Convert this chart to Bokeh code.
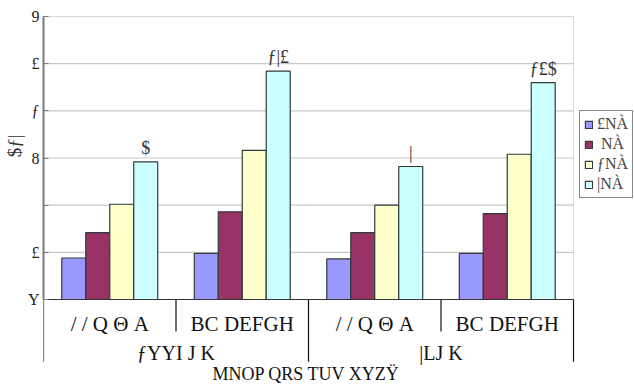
from bokeh.core.properties import value
from bokeh.embed import file_html
from bokeh.models import (BoxAnnotation, ColumnDataSource, Legend, LegendItem,
                          Range1d, Title)
from bokeh.plotting import figure
from bokeh.resources import INLINE
from bokeh.transform import dodge

# ---- data -------------------------------------------------------------
outer_groups = ["ƒYYI J K", "|LJ K"]
inner_groups = ["/ / Q Θ A", "BC DEFGH"]
series_names = ["£NÀ", " NÀ", "ƒNÀ", "|NÀ"]
series_a = [44, 49, 43, 49]
series_b = [71, 93, 71, 91]
series_c = [101, 158, 100, 154]
series_d = [146, 242, 141, 230]
top_labels = ["$", "ƒ|£", "|", "ƒ£$"]
y_ticks = [0, 50, 100, 150, 200, 250, 300]
y_tick_labels = ["Y", "£", "", "8", "ƒ", "£", "9"]
x_title = "MNOP QRS TUV  XYZŸ"
y_title = "$ƒ|"

colors = ["#9999FF", "#993366", "#FFFFCC", "#CCFFFF"]
serif = "Liberation Serif"
ink = "#111111"

# one slot per (outer, inner) category, slot i spans [i, i+1]
cats = [(o, i) for o in outer_groups for i in inner_groups]
n_cats = len(cats)
centers = [k + 0.5 for k in range(n_cats)]

src = ColumnDataSource(dict(x=centers, a=series_a, b=series_b, c=series_c,
                            d=series_d, lbl=top_labels))

# frame runs to the right edge so the legend can sit beside the plot area
left_px = 43
frame_px, plot_px = 634 - left_px, 530
p = figure(
    x_range=Range1d(0, n_cats * frame_px / plot_px),
    y_range=Range1d(-92.2, 300),
    width=634, height=386,
    x_axis_location=None,
    toolbar_location=None, output_backend="svg",
    min_border_left=left_px, min_border_right=0, min_border_top=16, min_border_bottom=0,
)
p.outline_line_color = None
p.xgrid.visible = False
p.ygrid.visible = False

ax = p.yaxis[0]
ax.ticker = y_ticks
ax.bounds = (0, 300)
ax.major_label_overrides = {t: s for t, s in zip(y_ticks, y_tick_labels)}
ax.major_label_text_font = serif
ax.major_label_text_font_size = "16px"
ax.major_label_text_color = "#222222"
ax.major_label_standoff = 4
ax.major_tick_in = 5
ax.major_tick_out = 0
ax.minor_tick_line_color = None
ax.axis_line_color = "#7a7a7a"
ax.axis_line_width = 2
ax.major_tick_line_color = "#7a7a7a"

# vertical title beside the value axis
p.add_layout(Title(text=y_title, align="right", offset=118, standoff=0,
                   text_font=serif, text_font_size="19px", text_font_style="normal",
                   text_color="#333333"), "left")

# horizontal gridlines limited to the plot area
p.segment(x0=0, x1=n_cats, y0="y", y1="y",
          source=ColumnDataSource(dict(y=y_ticks[1:])),
          line_color="#c8c8c8", line_width=1.2)

# plot-area border
p.add_layout(BoxAnnotation(left=0, right=n_cats, bottom=0, top=300, fill_alpha=0,
                           line_color="#8c8c8c", line_width=1))

bar_w = 0.181
offsets = [-1.5 * bar_w, -0.5 * bar_w, 0.5 * bar_w, 1.5 * bar_w]
items = []
for col, off, color, name in zip(["a", "b", "c", "d"], offsets, colors, series_names):
    r = p.vbar(x=dodge("x", off), top=col, width=bar_w, source=src,
               fill_color=color, line_color="#2f3b3b", line_width=1.2)
    items.append(LegendItem(label=name, renderers=[r]))

# category baseline
p.segment(x0=0, x1=n_cats, y0=0, y1=0, line_color=ink, line_width=1.2)

# value labels above the last series
p.text(x=dodge("x", offsets[3]), y="d", text="lbl", source=src,
       text_align="center", text_baseline="bottom", y_offset=-4,
       text_font=value(serif), text_font_size="18px", text_color="#333333")

# category axis: inner labels
p.text(x="x", y=-26, text="lab",
       source=ColumnDataSource(dict(x=centers, lab=[c[1] for c in cats])),
       text_align="center", text_baseline="middle",
       text_font=value(serif), text_font_size="21px", text_color=ink)

# outer labels, centred on each pair of inner categories
n_inner = len(inner_groups)
outer_mid = [g * n_inner + n_inner / 2 for g in range(len(outer_groups))]
p.text(x="x", y=-57, text="lab",
       source=ColumnDataSource(dict(x=outer_mid, lab=outer_groups)),
       text_align="center", text_baseline="middle",
       text_font=value(serif), text_font_size="20px", text_color=ink)

# short separators between inner categories, long ones at group edges
inner_edges = [k for k in range(1, n_cats) if k % n_inner != 0]
outer_edges = [k for k in range(0, n_cats + 1) if k % n_inner == 0]
p.segment(x0="x", x1="x", y0=0, y1=-34, source=ColumnDataSource(dict(x=inner_edges)),
          line_color=ink, line_width=1.2)
p.segment(x0="x", x1="x", y0=0, y1=-66, source=ColumnDataSource(dict(x=outer_edges)),
          line_color=ink, line_width=1.2)

# horizontal axis title
p.text(x=[n_cats / 2], y=[-79], text=[x_title],
       text_align="center", text_baseline="middle",
       text_font=value(serif), text_font_size="18px", text_color=ink)

legend = Legend(items=items, location=(536, 188), orientation="vertical",
                glyph_width=9, glyph_height=9, label_standoff=4, spacing=2,
                padding=4, margin=0, label_height=14,
                label_text_font=serif, label_text_font_size="16px",
                border_line_color=ink, border_line_width=1.2,
                background_fill_color="white")
p.add_layout(legend)

open("out.html", "w").write(file_html(p, INLINE))
